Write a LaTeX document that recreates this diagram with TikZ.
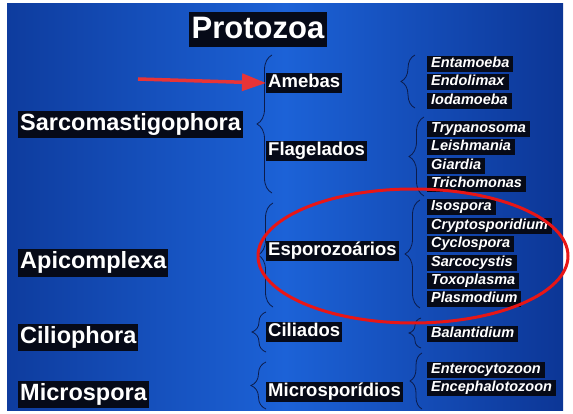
\documentclass[tikz,border=0pt]{standalone}
\usepackage{fontspec}
\setmainfont{Liberation Sans}
\usetikzlibrary{decorations.pathreplacing,arrows.meta}

\definecolor{boxblack}{RGB}{6,10,24}
\definecolor{bracecol}{RGB}{12,28,75}
\definecolor{redmark}{RGB}{232,22,22}
\definecolor{redarr}{RGB}{232,52,55}
\definecolor{bgL}{RGB}{14,60,158}
\definecolor{bgM}{RGB}{28,98,215}
\definecolor{bgR}{RGB}{12,54,150}

\tikzset{
  lbl/.style={fill=boxblack, text=white, anchor=west},
  lbltitle/.style={lbl, anchor=center, font=\fontsize{31}{34}\selectfont\bfseries,
    text height=23pt, text depth=6pt, inner xsep=3pt, inner ysep=3pt},
  lblbig/.style={lbl, font=\fontsize{23.5}{26}\selectfont\bfseries,
    text height=17pt, text depth=5pt, inner xsep=2pt, inner ysep=2.5pt},
  lblmid/.style={lbl, font=\fontsize{18.5}{21}\selectfont\bfseries,
    text height=13.5pt, text depth=4pt, inner xsep=2pt, inner ysep=1.5pt},
  lblsmall/.style={lbl, font=\fontsize{14.5}{16}\selectfont\bfseries\itshape,
    text height=10.5pt, text depth=3pt, inner xsep=4pt, inner ysep=1pt},
  bracestyle/.style={decorate, decoration={brace, amplitude=#1}, draw=bracecol, line width=0.8pt},
  redarrow/.style={draw=redarr, line width=3.5pt, -{Triangle[length=24pt,width=17pt]}},
  redring/.style={draw=redmark, line width=3pt},
}

\begin{document}
\begin{tikzpicture}[x=1pt,y=-1pt]
\useasboundingbox (0,0) rectangle (573,414);
\shade[left color=bgL, right color=bgR, middle color=bgM] (7,4) rectangle (563,410);

% title
\node[lbltitle] (protozoa) at (258,30) {Protozoa};

% left column
\node[lblbig] (sarco) at (18,125) {Sarcomastigophora};
\node[lblbig] (apico) at (18,263) {Apicomplexa};
\node[lblbig] (cilio) at (18,337) {Ciliophora};
\node[lblbig] (micro) at (18,394) {Microspora};

% middle column
\node[lblmid] (amebas) at (266,83) {Amebas};
\node[lblmid] (flag) at (266,151) {Flagelados};
\node[lblmid] (espo) at (266,251) {Esporozoários};
\node[lblmid] (cili) at (266,332) {Ciliados};
\node[lblmid] (msp) at (266,392) {Microsporídios};

% right column
\node[lblsmall] (ent) at (427,64) {Entamoeba};
\node[lblsmall] (endo) at (427,82) {Endolimax};
\node[lblsmall] (iodo) at (427,101) {Iodamoeba};
\node[lblsmall] (tryp) at (427,129) {Trypanosoma};
\node[lblsmall] (leish) at (427,147) {Leishmania};
\node[lblsmall] (giar) at (427,166) {Giardia};
\node[lblsmall] (trich) at (427,184) {Trichomonas};
\node[lblsmall] (isos) at (427,207) {Isospora};
\node[lblsmall] (crypt) at (427,226) {Cryptosporidium};
\node[lblsmall] (cycl) at (427,244) {Cyclospora};
\node[lblsmall] (sarc) at (427,263) {Sarcocystis};
\node[lblsmall] (toxo) at (427,281) {Toxoplasma};
\node[lblsmall] (plas) at (427,299) {Plasmodium};
\node[lblsmall] (bala) at (427,334) {Balantidium};
\node[lblsmall] (ente) at (427,370) {Enterocytozoon};
\node[lblsmall] (ence) at (427,388) {Encephalotozoon};

% braces
\draw[bracestyle=15] (272,193) -- (272,55);
\draw[bracestyle=14] (415,108) -- (415,55);
\draw[bracestyle=15] (424,196) -- (424,117);
\draw[bracestyle=15] (273,307) -- (273,203);
\draw[bracestyle=15] (420,308) -- (420,200);
\draw[bracestyle=14] (266,352) -- (266,312);
\draw[bracestyle=12] (421,348) -- (421,318);
\draw[bracestyle=15] (266,409) -- (266,362);
\draw[bracestyle=12] (422,409) -- (422,353);

% red marks
\coordinate (arrowtail) at (138,79);
\draw[redarrow] (arrowtail) -- (amebas.west);
\draw[redring] (413,256) ellipse [x radius=155pt, y radius=67pt];
\end{tikzpicture}
\end{document}
